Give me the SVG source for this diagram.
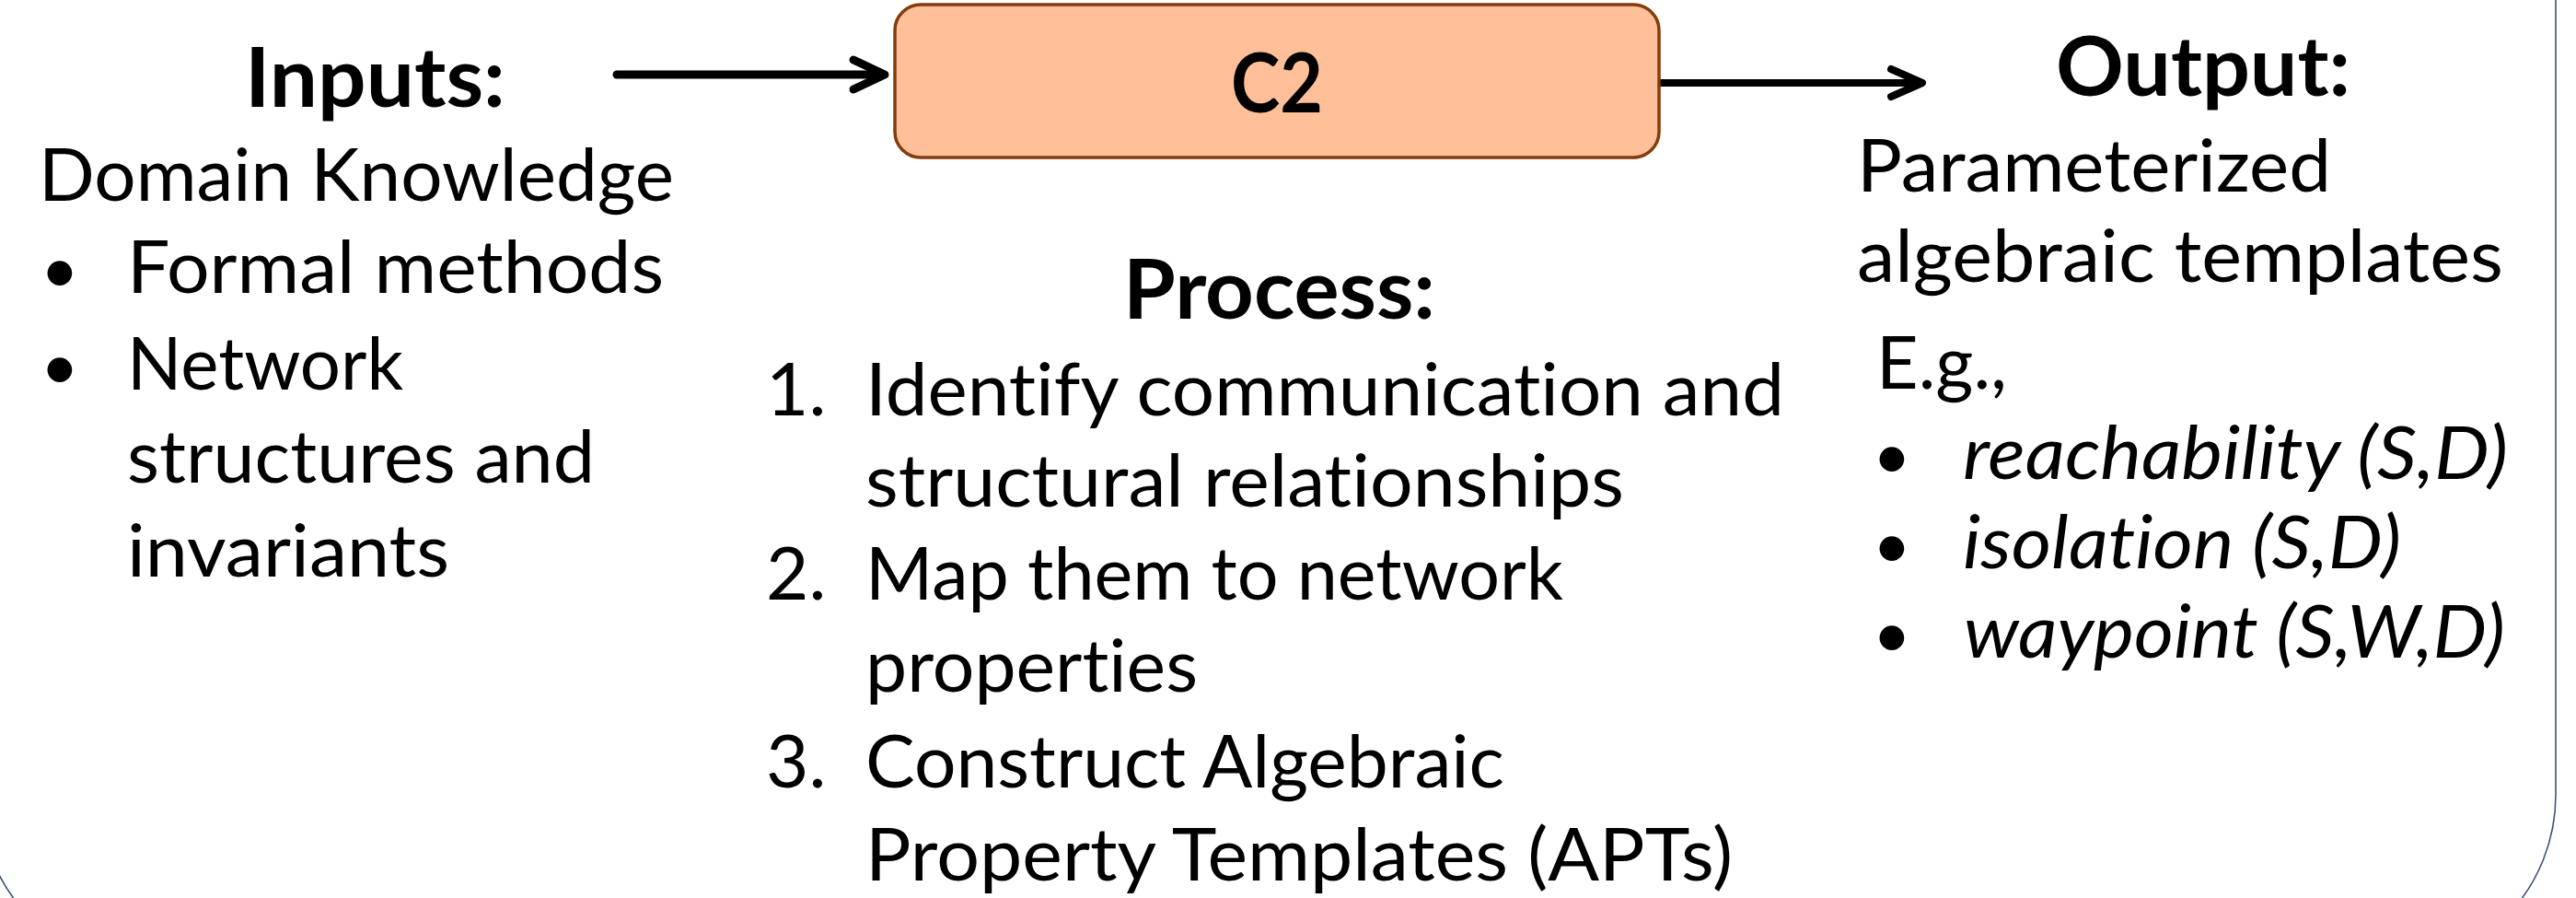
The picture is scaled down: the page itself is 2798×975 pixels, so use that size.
<svg xmlns="http://www.w3.org/2000/svg" width="2798" height="975" viewBox="0 0 2798 975">
<style>
text{font-family:Lato,"Liberation Sans",sans-serif;fill:#000;font-variant-ligatures:none}
.h{font-weight:bold;font-size:90px}
.b{font-size:80px}
.i{font-size:80px;font-style:italic}
.bul{font-size:72px}
.conn{stroke:#000;fill:none;stroke-linecap:round;stroke-linejoin:round}
</style>
<rect width="2798" height="975" fill="#fff"/>
<g id="frame">
<rect x="-22" y="-300" width="2798" height="1353" rx="190" ry="190" fill="none" stroke="#3b5478" stroke-width="1.6"/>
</g>
<g id="connectors">
<path class="conn" d="M670 81 H958" stroke-width="9" stroke-linecap="butt"/>
<path class="conn" d="M927 65 L961 81 L927 97" stroke-width="9"/>
<path class="conn" d="M1803 90 H2085" stroke-width="8" stroke-linecap="butt"/>
<path class="conn" d="M2054 75 L2088 90 L2054 105" stroke-width="8"/>
</g>
<g id="c2">
<rect x="972" y="5" width="830" height="166" rx="28" ry="28" fill="#ffbf99" stroke="#843c0c" stroke-width="3.5"/>
<text class="h" x="1387" y="122" text-anchor="middle" font-size="88" textLength="100" lengthAdjust="spacingAndGlyphs">C2</text>
</g>
<g id="inputs">
<text class="h" x="266" y="116" textLength="283" lengthAdjust="spacingAndGlyphs">Inputs:</text>
<text class="b" x="42" y="218" textLength="690" lengthAdjust="spacingAndGlyphs">Domain Knowledge</text>
<text class="bul" x="44" y="318">•</text>
<text class="b" x="138" y="318" textLength="583" lengthAdjust="spacingAndGlyphs">Formal methods</text>
<text class="bul" x="44" y="423">•</text>
<text class="b" x="138" y="423" textLength="300" lengthAdjust="spacingAndGlyphs">Network</text>
<text class="b" x="138" y="524" textLength="508" lengthAdjust="spacingAndGlyphs">structures and</text>
<text class="b" x="138" y="626" textLength="350" lengthAdjust="spacingAndGlyphs">invariants</text>
</g>
<g id="process">
<text class="h" x="1220" y="346" textLength="339" lengthAdjust="spacingAndGlyphs">Process:</text>
<text class="b" x="832" y="451">1.</text>
<text class="b" x="940" y="451" textLength="998" lengthAdjust="spacingAndGlyphs">Identify communication and</text>
<text class="b" x="940" y="550" textLength="824" lengthAdjust="spacingAndGlyphs">structural relationships</text>
<text class="b" x="832" y="651">2.</text>
<text class="b" x="940" y="651" textLength="758" lengthAdjust="spacingAndGlyphs">Map them to network</text>
<text class="b" x="940" y="751" textLength="361" lengthAdjust="spacingAndGlyphs">properties</text>
<text class="b" x="832" y="855">3.</text>
<text class="b" x="940" y="855" textLength="694" lengthAdjust="spacingAndGlyphs">Construct Algebraic</text>
<text class="b" x="940" y="956" textLength="942" lengthAdjust="spacingAndGlyphs">Property Templates (APTs)</text>
</g>
<g id="output">
<text class="h" x="2233" y="104" textLength="320" lengthAdjust="spacingAndGlyphs">Output:</text>
<text class="b" x="2017" y="208" textLength="515" lengthAdjust="spacingAndGlyphs">Parameterized</text>
<text class="b" x="2017" y="306" textLength="702" lengthAdjust="spacingAndGlyphs">algebraic templates</text>
<text class="b" x="2038" y="422" textLength="142" lengthAdjust="spacingAndGlyphs">E.g.,</text>
<text class="bul" x="2034" y="520">•</text>
<text class="i" x="2132" y="520" textLength="592" lengthAdjust="spacingAndGlyphs">reachability (S,D)</text>
<text class="bul" x="2034" y="617">•</text>
<text class="i" x="2132" y="617" textLength="476" lengthAdjust="spacingAndGlyphs">isolation (S,D)</text>
<text class="bul" x="2034" y="714">•</text>
<text class="i" x="2133" y="714" textLength="588" lengthAdjust="spacingAndGlyphs">waypoint (S,W,D)</text>
</g>
</svg>
